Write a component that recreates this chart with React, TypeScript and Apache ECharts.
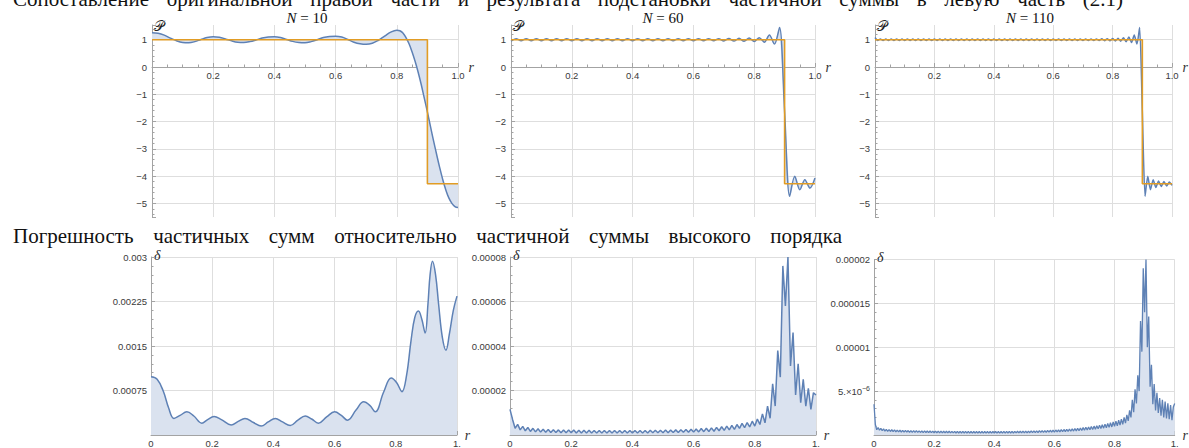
import React, { useEffect, useRef } from "react";
import * as echarts from "echarts";

// ---------------- DATA ----------------
const titleTop = ["Сопоставление", "оригинальной", "правой", "части", "и", "результата", "подстановки", "частичной", "суммы", "в", "левую", "часть", "(2.1)"];
const titleBottom = ["Погрешность", "частичных", "сумм", "относительно", "частичной", "суммы", "высокого", "порядка"];
const panelN = ["10", "60", "110"];

const topXLabels = ["", "0.2", "0.4", "0.6", "0.8", "1.0"];
const botXLabels = ["0", "0.2", "0.4", "0.6", "0.8", "1."];
const err10YLabels = ["", "0.00075", "0.0015", "0.00225", "0.003"];
const err60YLabels = ["", "0.00002", "0.00004", "0.00006", "0.00008"];
const err110YLabels = ["", "5.×10{sup|−6}", "0.00001", "0.000015", "0.00002"];

// original right-hand side (step)
const stepX = [0, 0.9, 0.9, 1];
const stepY = [1, 1, -4.28, -4.28];

// partial sum N = 10
const sum10X = [0, 0.02, 0.04, 0.06, 0.08, 0.1, 0.12, 0.14, 0.16, 0.18, 0.2, 0.22, 0.24, 0.26, 0.28, 0.3, 0.32, 0.34, 0.36, 0.38, 0.4, 0.42, 0.44, 0.46, 0.48, 0.5, 0.52, 0.54, 0.56, 0.58, 0.6, 0.62, 0.64, 0.66, 0.68, 0.7, 0.72, 0.74, 0.76, 0.78, 0.8, 0.81, 0.82, 0.83, 0.84, 0.85, 0.86, 0.87, 0.88, 0.89, 0.9, 0.91, 0.92, 0.93, 0.94, 0.95, 0.96, 0.97, 0.98, 0.99, 1.0];
const sum10Y = [1.26, 1.24, 1.17, 1.06, 0.96, 0.9, 0.89, 0.93, 1.01, 1.08, 1.11, 1.09, 1.03, 0.96, 0.91, 0.9, 0.93, 0.99, 1.06, 1.1, 1.11, 1.08, 1.01, 0.94, 0.9, 0.89, 0.93, 1.0, 1.08, 1.12, 1.13, 1.1, 1.01, 0.91, 0.85, 0.83, 0.87, 0.98, 1.13, 1.28, 1.35, 1.33, 1.25, 1.08, 0.85, 0.55, 0.2, -0.2, -0.65, -1.15, -1.65, -2.18, -2.7, -3.2, -3.68, -4.12, -4.5, -4.8, -5.0, -5.12, -5.15];

// partial sum N = 60, sampled every 1/60 in r
const sum60Step = 1 / 60;
const sum60Y = [
  0.95, 1.04, 0.96, 1.04, 0.96, 1.04, 0.96, 1.04, 0.96, 1.04,
  0.96, 1.04, 0.96, 1.04, 0.96, 1.04, 0.96, 1.04, 0.96, 1.04,
  0.96, 1.04, 0.96, 1.04, 0.96, 1.04, 0.96, 1.04, 0.96, 1.04,
  0.96, 1.04, 0.96, 1.04, 0.96, 1.04, 0.96, 1.04, 0.96, 1.04,
  0.96, 1.04, 0.955, 1.045, 0.95, 1.05, 0.945, 1.06, 0.935, 1.075,
  0.91, 1.17, 0.84, 1.45, -1.64, -4.74, -4.01, -4.5, -4.13, -4.44, -4.07,
];

// partial sum N = 110, sampled every 1/110 in r
const sum110Step = 1 / 110;
const sum110Y = [
  1.08, 0.97, 1.03, 0.97, 1.03, 0.97, 1.03, 0.97, 1.03, 0.97,
  1.03, 0.97, 1.03, 0.97, 1.03, 0.97, 1.03, 0.97, 1.03, 0.97,
  1.03, 0.97, 1.03, 0.97, 1.03, 0.97, 1.03, 0.97, 1.03, 0.97,
  1.03, 0.97, 1.03, 0.97, 1.03, 0.97, 1.03, 0.97, 1.03, 0.97,
  1.03, 0.97, 1.03, 0.97, 1.03, 0.97, 1.03, 0.97, 1.03, 0.97,
  1.03, 0.97, 1.03, 0.97, 1.03, 0.97, 1.03, 0.97, 1.03, 0.97,
  1.03, 0.97, 1.03, 0.97, 1.03, 0.97, 1.03, 0.97, 1.03, 0.97,
  1.03, 0.97, 1.03, 0.97, 1.03, 0.97, 1.03, 0.97, 1.03, 0.97,
  1.03, 0.97, 1.03, 0.97, 1.035, 0.965, 1.04, 0.96, 1.045, 0.955,
  1.05, 0.945, 1.07, 0.93, 1.1, 0.9, 1.17, 0.84, 1.45,
  -1.64, -4.74, -4.01, -4.5, -4.13, -4.42, -4.18, -4.38, -4.2, -4.36, -4.22, -4.34,
];

// error N = 10
const err10X = [0, 0.02, 0.04, 0.058, 0.075, 0.095, 0.117, 0.14, 0.166, 0.185, 0.206, 0.23, 0.262, 0.285, 0.307, 0.335, 0.36, 0.383, 0.406, 0.43, 0.455, 0.48, 0.504, 0.525, 0.547, 0.575, 0.6, 0.622, 0.642, 0.67, 0.695, 0.715, 0.733, 0.76, 0.785, 0.803, 0.82, 0.835, 0.85, 0.862, 0.874, 0.885, 0.896, 0.905, 0.912, 0.92, 0.93, 0.94, 0.952, 0.964, 0.975, 0.988, 1.0];
const err10Unit = 1e-4;
const err10Y = [9.8, 9.4, 7.4, 4.5, 2.8, 3.3, 3.9, 3.2, 2.0, 2.6, 3.1, 2.6, 1.7, 2.3, 2.8, 2.1, 1.5, 2.2, 2.8, 2.2, 1.6, 2.5, 3.2, 2.7, 2.0, 3.1, 3.9, 3.3, 2.5, 4.2, 5.6, 5.0, 3.9, 7.2, 9.6, 8.8, 7.3, 10, 16, 19.8, 20.9, 19.5, 17.2, 22, 27, 29.3, 27, 22, 16.5, 14.3, 17, 21, 23.4];

// error N = 60, sampled every 1/120 in r
const err60Step = 1 / 120;
const err60Unit = 1e-6;
const err60Y = [
  11.5, 7.0, 3.0, 4.8, 2.3, 3.9, 1.9, 3.4, 1.6, 3.0,
  1.4, 2.8, 1.3, 2.6, 1.2, 2.5, 1.1, 2.4, 1.1, 2.3,
  1.0, 2.3, 1.0, 2.2, 1.0, 2.2, 0.9, 2.1, 0.9, 2.1,
  0.9, 2.1, 0.9, 2.0, 0.9, 2.0, 0.9, 2.0, 0.9, 2.0,
  0.9, 2.0, 0.9, 2.0, 0.9, 2.0, 0.9, 2.0, 0.9, 2.0,
  0.9, 2.0, 0.9, 2.0, 0.9, 2.1, 1.0, 2.1, 1.0, 2.1,
  1.0, 2.2, 1.0, 2.2, 1.1, 2.3, 1.1, 2.4, 1.2, 2.5,
  1.2, 2.6, 1.3, 2.7, 1.4, 2.9, 1.5, 3.0, 1.6, 3.2,
  1.7, 3.4, 1.9, 3.7, 2.1, 4.0, 2.3, 4.3, 2.5, 4.7,
  3.0, 5.2, 3.3, 5.6, 3.6, 6.2, 4.0, 7.2, 4.7, 9.5,
  5.5, 13, 7.5, 23, 13, 38, 26, 76, 58, 80,
  31, 46, 18, 32, 14.5, 25, 13, 21, 11.5, 19,
  18,
];

// error N = 110, sampled every 1/220 in r
const err110Step = 1 / 220;
const err110Unit = 1e-7;
const err110Y = [
  35, 12, 6, 8.5, 5.5, 7.5, 5, 7, 4.5, 6.5,
  4.2, 6.2, 4, 6, 3.8, 5.8, 3.6, 5.6, 3.5, 5.4,
  3.4, 5.3, 3.3, 5.2, 3.2, 5.1, 3.1, 5.0, 3.0, 4.9,
  3.0, 4.9, 2.9, 4.8, 2.9, 4.7, 2.8, 4.7, 2.8, 4.6,
  2.7, 4.6, 2.7, 4.5, 2.6, 4.5, 2.6, 4.4, 2.5, 4.4,
  2.5, 4.3, 2.5, 4.3, 2.4, 4.3, 2.4, 4.2, 2.4, 4.2,
  2.3, 4.2, 2.3, 4.1, 2.3, 4.1, 2.3, 4.1, 2.2, 4.1,
  2.2, 4.0, 2.2, 4.0, 2.2, 4.0, 2.2, 4.0, 2.2, 4.0,
  2.2, 4.0, 2.2, 4.0, 2.2, 4.0, 2.2, 4.0, 2.2, 4.0,
  2.2, 4.0, 2.2, 4.0, 2.2, 4.1, 2.2, 4.1, 2.3, 4.1,
  2.3, 4.2, 2.3, 4.2, 2.4, 4.3, 2.4, 4.3, 2.4, 4.4,
  2.5, 4.5, 2.5, 4.5, 2.6, 4.6, 2.7, 4.7, 2.7, 4.8,
  2.8, 4.9, 2.9, 5.0, 3.0, 5.1, 3.1, 5.2, 3.2, 5.4,
  3.3, 5.5, 3.4, 5.7, 3.5, 5.9, 3.6, 6.1, 3.8, 6.3,
  3.9, 6.5, 4.1, 6.8, 4.3, 7.1, 4.5, 7.4, 4.7, 7.7,
  4.9, 8.0, 5.1, 8.4, 5.4, 8.8, 5.7, 9.2, 6.0, 9.6,
  6.3, 10.1, 6.6, 10.6, 7.0, 11.2, 7.4, 11.8, 7.8, 12.4,
  8.2, 13.1, 8.7, 13.9, 9.2, 14.8, 9.8, 15.8, 10.5, 16.8,
  11.2, 18, 12.2, 20, 13.5, 23, 16, 28, 20, 40,
  26, 52, 36, 68, 50, 130, 95, 190, 140, 200,
  100, 135, 55, 80, 35, 58, 28, 48, 25, 42,
  22, 40, 20, 38, 19, 36, 18, 34, 17, 32,
  36,
];

// ---------------- STYLE ----------------
const BLUE = "#5e81b5";
const ORANGE = "#e19c24";
const FILL = "#dae2ef";
const AXIS = "#a3a3a3";
const GRIDLINE = "#dedede";
const LABEL = "#3a3a3a";
const SERIF = "Liberation Serif";
const SANS = "Liberation Sans";
const TITLE_SIZE = 21;

const TOP_MIN = -5.5;
const TOP_MAX = 1.54;
const topGrids = [
  { left: 152, top: 25, width: 306, height: 192 },
  { left: 511, top: 25, width: 304, height: 192 },
  { left: 875, top: 25, width: 305, height: 192 },
];
const botGrids = [
  { left: 151, top: 257, width: 306, height: 179 },
  { left: 510, top: 257, width: 306, height: 178 },
  { left: 874, top: 259.5, width: 306, height: 175.5 },
];
const nLabelX = [307, 663, 1030];

function pairs(xs: number[], ys: number[], unit = 1) {
  return ys.map((y, i) => [xs[i], y * unit]);
}
function gridPairs(step: number, ys: number[], unit = 1) {
  return ys.map((y, i) => [i * step, y * unit]);
}

function justify(words: string[], left: number, right: number, font: string) {
  const ctx = document.createElement("canvas").getContext("2d")!;
  ctx.font = font;
  const w = words.map((s) => ctx.measureText(s).width);
  const total = w.reduce((a, b) => a + b, 0);
  const gap = (right - left - total) / (words.length - 1);
  const xs: number[] = [];
  let x = left;
  w.forEach((ww) => {
    xs.push(x);
    x += ww + gap;
  });
  return xs;
}

export default function App() {
  const ref = useRef<HTMLDivElement>(null);

  useEffect(() => {
    if (!ref.current) return;
    const chart = echarts.init(ref.current, undefined, { renderer: "svg" });

    const stepPairs = pairs(stepX, stepY);
    const topCurves = [
      pairs(sum10X, sum10Y),
      gridPairs(sum60Step, sum60Y),
      gridPairs(sum110Step, sum110Y),
    ];
    const errCurves = [
      pairs(err10X, err10Y, err10Unit),
      gridPairs(err60Step, err60Y, err60Unit),
      gridPairs(err110Step, err110Y, err110Unit),
    ];
    const errMax = [0.003, 0.00008, 0.00002];
    const errInterval = [0.00075, 0.00002, 0.000005];
    const errLabels = [err10YLabels, err60YLabels, err110YLabels];

    const tickLabelStyle = { fontSize: 9.5, color: LABEL, fontFamily: SANS };
    const commonAxis = {
      type: "value",
      axisLine: { show: true, onZero: false, lineStyle: { color: AXIS, width: 1 } },
      axisTick: { show: true, inside: true, length: 4, lineStyle: { color: AXIS } },
      minorTick: { show: true, length: 2.5, lineStyle: { color: AXIS } },
      splitLine: { show: true, lineStyle: { color: GRIDLINE, width: 1 } },
    };
    const rStyle = { fontFamily: SERIF, fontStyle: "italic", fontSize: 14, color: "#333", verticalAlign: "middle" };

    const grid: any[] = [...topGrids, ...botGrids];
    const xAxis: any[] = [];
    const yAxis: any[] = [];
    const series: any[] = [];

    for (let i = 0; i < 3; i++) {
      // move the r axis up to the level r-axis crosses P = 0
      const zeroOffset = -topGrids[i].height * (0 - TOP_MIN) / (TOP_MAX - TOP_MIN);
      xAxis.push({
        ...commonAxis,
        gridIndex: i,
        position: "bottom",
        offset: zeroOffset,
        min: 0,
        max: 1,
        interval: 0.2,
        minorTick: { ...commonAxis.minorTick, splitNumber: 4 },
        axisLabel: { ...tickLabelStyle, margin: 3, formatter: (v: number) => topXLabels[Math.round(v * 5)] ?? "" },
        name: "r",
        nameLocation: "end",
        nameGap: 6,
        nameTextStyle: rStyle,
      });
      yAxis.push({
        ...commonAxis,
        gridIndex: i,
        min: TOP_MIN,
        max: TOP_MAX,
        splitNumber: 7,
        minInterval: 1,
        maxInterval: 1,
        minorTick: { ...commonAxis.minorTick, splitNumber: 5 },
        splitLine: { ...commonAxis.splitLine, showMinLine: false, showMaxLine: false },
        axisLabel: {
          ...tickLabelStyle,
          margin: 5,
          showMinLabel: false,
          showMaxLabel: false,
          formatter: (v: number) => (Number.isInteger(v) ? (v < 0 ? "−" + -v : String(v)) : ""),
        },
        name: "𝒫",
        nameLocation: "end",
        nameGap: -1,
        nameTextStyle: { fontFamily: "DejaVu Serif", fontSize: 14, color: "#222", align: "left", verticalAlign: "middle", padding: [0, 0, 0, 2] },
      });
    }
    for (let i = 0; i < 3; i++) {
      const step = errInterval[i];
      const labels = errLabels[i];
      xAxis.push({
        ...commonAxis,
        gridIndex: 3 + i,
        position: "bottom",
        min: 0,
        max: 1,
        interval: 0.2,
        minorTick: { ...commonAxis.minorTick, splitNumber: 4 },
        axisLabel: { ...tickLabelStyle, margin: 3, formatter: (v: number) => botXLabels[Math.round(v * 5)] ?? "" },
        name: "r",
        nameLocation: "end",
        nameGap: 6,
        nameTextStyle: { ...rStyle, padding: [4, 0, 0, 0] },
      });
      yAxis.push({
        ...commonAxis,
        gridIndex: 3 + i,
        min: 0,
        max: errMax[i],
        interval: step,
        minorTick: { ...commonAxis.minorTick, splitNumber: 5 },
        axisLabel: {
          ...tickLabelStyle,
          margin: 4,
          formatter: (v: number) => labels[Math.round(v / step)] ?? "",
          rich: { sup: { fontSize: 7, fontFamily: SANS, color: LABEL, padding: [0, 0, 6, 0] } },
        },
        name: "δ",
        nameLocation: "end",
        nameGap: 2,
        nameTextStyle: { fontFamily: SERIF, fontStyle: "italic", fontSize: 14, color: "#222", align: "left", verticalAlign: "middle", padding: [0, 0, 0, 3] },
      });
    }

    topCurves.forEach((curve, i) => {
      series.push({
        type: "custom",
        xAxisIndex: i,
        yAxisIndex: i,
        data: [[0, 0]],
        silent: true,
        clip: true,
        z: 1,
        renderItem: (_p: any, api: any) => {
          const pts = curve.map((p) => api.coord(p));
          for (let j = stepPairs.length - 1; j >= 0; j--) pts.push(api.coord(stepPairs[j]));
          return { type: "polygon", shape: { points: pts }, style: { fill: FILL, stroke: "none" } };
        },
      });
      series.push({
        type: "line",
        xAxisIndex: i,
        yAxisIndex: i,
        data: curve,
        showSymbol: false,
        smooth: i === 0 ? 0.4 : i === 1 ? 0.3 : 0.2,
        silent: true,
        z: 3,
        lineStyle: { color: BLUE, width: 1.5 },
      });
      series.push({
        type: "line",
        xAxisIndex: i,
        yAxisIndex: i,
        data: stepPairs,
        showSymbol: false,
        silent: true,
        z: 4,
        lineStyle: { color: ORANGE, width: 1.6 },
      });
    });

    errCurves.forEach((curve, i) => {
      series.push({
        type: "line",
        xAxisIndex: 3 + i,
        yAxisIndex: 3 + i,
        data: curve,
        showSymbol: false,
        smooth: i === 0 ? 0.4 : false,
        silent: true,
        z: 3,
        lineStyle: { color: BLUE, width: i === 2 ? 1.3 : 1.5 },
        areaStyle: { color: FILL, opacity: 1 },
      });
    });

    const titleFont = `${TITLE_SIZE}px "${SERIF}"`;
    const topXs = justify(titleTop, 13, 1123, titleFont);
    const botXs = justify(titleBottom, 13, 842, titleFont);
    const graphic: any[] = [];
    titleTop.forEach((w, i) =>
      graphic.push({ type: "text", x: topXs[i], y: -1.5, style: { text: w, fontFamily: SERIF, fontSize: TITLE_SIZE, fill: "#111", verticalAlign: "middle", align: "left" } })
    );
    titleBottom.forEach((w, i) =>
      graphic.push({ type: "text", x: botXs[i], y: 236, style: { text: w, fontFamily: SERIF, fontSize: TITLE_SIZE, fill: "#111", verticalAlign: "middle", align: "left" } })
    );
    panelN.forEach((n, i) =>
      graphic.push({
        type: "text",
        x: nLabelX[i],
        y: 18,
        style: {
          text: "{i|N} = " + n,
          fontFamily: SERIF,
          fontSize: 15,
          fill: "#111",
          align: "center",
          verticalAlign: "middle",
          rich: { i: { fontStyle: "italic", fontFamily: SERIF, fontSize: 15, fill: "#111" } },
        },
      })
    );

    chart.setOption({
      animation: false,
      backgroundColor: "#ffffff",
      grid,
      xAxis,
      yAxis,
      series,
      graphic,
    });

    return () => chart.dispose();
  }, []);

  return <div ref={ref} style={{ position: "fixed", left: 0, top: 0, width: 1189, height: 448 }} />;
}
